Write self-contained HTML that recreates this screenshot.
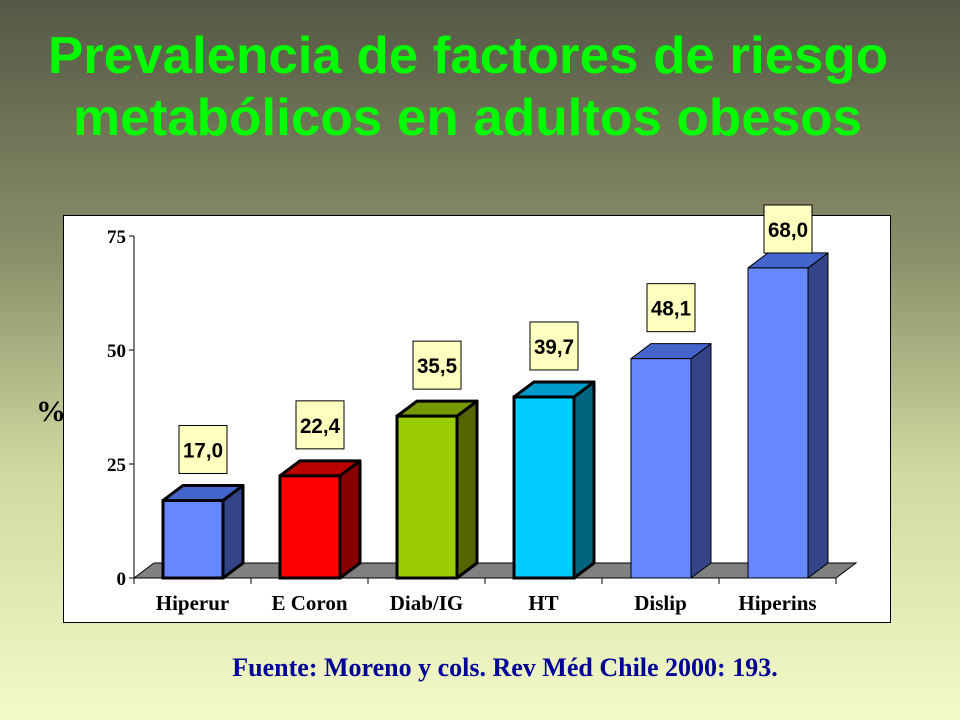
<!DOCTYPE html>
<html><head><meta charset="utf-8"><style>
html,body{margin:0;padding:0;width:960px;height:720px;overflow:hidden}
svg{display:block}
</style></head><body>
<svg id="c" width="960" height="720" xmlns="http://www.w3.org/2000/svg">
<defs><linearGradient id="bg" x1="0" y1="0" x2="0" y2="1">
<stop offset="0" stop-color="#555845"/><stop offset="0.35" stop-color="#8a8e68"/><stop offset="0.65" stop-color="#cfd8a0"/><stop offset="1" stop-color="#f4fac8"/></linearGradient></defs>
<rect width="960" height="720" fill="url(#bg)"/>
<g font-family="Liberation Sans, Arial, sans-serif" font-weight="bold" font-size="52" fill="#00ff00">
<text x="48" y="73" textLength="840" lengthAdjust="spacingAndGlyphs">Prevalencia de factores de riesgo</text>
<text x="73" y="135" textLength="789" lengthAdjust="spacingAndGlyphs">metabólicos en adultos obesos</text>
</g>
<text x="36" y="421" font-family="Liberation Serif, serif" font-weight="bold" font-size="30" fill="#000">%</text>
<rect x="63.5" y="215.5" width="827" height="407" fill="#fff" stroke="#000" stroke-width="1"/>
<g id="chart"></g>
<text x="505" y="676" text-anchor="middle" font-family="Liberation Serif, serif" font-weight="bold" font-size="26" fill="#000099">Fuente: Moreno y cols. Rev Méd Chile 2000: 193.</text>
</svg>
<script>
const categories = ["Hiperur","E Coron","Diab/IG","HT","Dislip","Hiperins"];
const values = [17.0,22.4,35.5,39.7,48.1,68.0];
const valueLabels = ["17,0","22,4","35,5","39,7","48,1","68,0"];
const yTicks = [0,25,50,75];
const frontColors = ["#6688ff","#ff0000","#99cc00","#00ccff","#6688ff","#6688ff"];
const topColors = ["#4466cc","#bb0000","#779900","#0099cc","#4466cc","#4466cc"];
const sideColors = ["#334488","#880000","#556600","#006680","#334488","#334488"];
const boldBorder = [true,true,true,true,false,false];

const NS="http://www.w3.org/2000/svg";
const g=document.getElementById('chart');
const x0=134,y0=578,yTop=236,slot=117,bw=60,off=29,dx=20,dy=15;
const y=v=>y0-(v/75)*(y0-yTop);
const xs=i=>x0+i*slot;
function el(t,a){const e=document.createElementNS(NS,t);for(const k in a)e.setAttribute(k,a[k]);g.appendChild(e);return e;}
// floor
let f=el('polygon',{points:`${x0},${y0} ${x0+dx},${y0-dy} ${xs(6)+dx},${y0-dy} ${xs(6)},${y0}`,fill:'#808080',stroke:'#000','stroke-width':1});


// axes
let ax=el('line',{x1:x0,y1:y0,x2:x0,y2:yTop,stroke:'#000','stroke-width':1});


let bx=el('line',{x1:x0,y1:y0,x2:xs(6),y2:y0,stroke:'#000','stroke-width':1});


yTicks.forEach(t=>{
 const l=el('line',{x1:x0-5,y1:y(t),x2:x0,y2:y(t),stroke:'#000'});
 
 
 const tx=el('text',{x:x0-8,y:y(t)+7,'text-anchor':'end','font-family':'Liberation Serif, serif','font-weight':'bold','font-size':19});
 tx.textContent=t;
 
 
});
for(let i=0;i<=6;i++){
 const l=el('line',{x1:xs(i),y1:y0,x2:xs(i),y2:y0+6,stroke:'#000'});
 
 
}
categories.forEach((c,i)=>{
 const X=xs(i)+off, T=y(values[i]), sw=boldBorder[i]?3:1;
 const side=el('polygon',{points:`${X+bw},${y0} ${X+bw+dx},${y0-dy} ${X+bw+dx},${T-dy} ${X+bw},${T}`,fill:sideColors[i],stroke:'#000','stroke-width':sw,'stroke-linejoin':'round'});
 
 
 const top=el('polygon',{points:`${X},${T} ${X+dx},${T-dy} ${X+bw+dx},${T-dy} ${X+bw},${T}`,fill:topColors[i],stroke:'#000','stroke-width':sw,'stroke-linejoin':'round'});
 
 
 const fr=el('rect',{x:X,y:T,width:bw,height:y0-T,fill:frontColors[i],stroke:'#000','stroke-width':sw});
 
 
 let lb=Math.max(T-dy-12,253), lx=X+dx/2+bw/2-24;
 const box=el('rect',{x:lx,y:lb-48,width:48,height:48,fill:'#ffffc0',stroke:'#000','stroke-width':1});
 
 
 const vt=el('text',{x:lx+24,y:lb-16,'text-anchor':'middle','font-family':'Liberation Sans, Arial, sans-serif','font-weight':'bold','font-size':21,textLength:40,lengthAdjust:'spacingAndGlyphs'});
 vt.textContent=valueLabels[i];
 
 
 const ct=el('text',{x:xs(i)+slot/2,y:610,'text-anchor':'middle','font-family':'Liberation Serif, serif','font-weight':'bold','font-size':21});
 ct.textContent=c;
 
 
});
</script>
</body></html>
